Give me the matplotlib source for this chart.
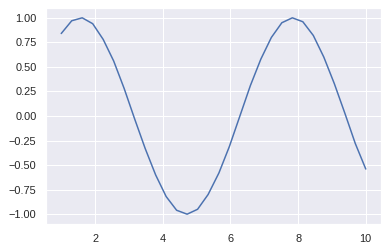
import matplotlib
matplotlib.use("Agg")
import matplotlib.pyplot as plt
import seaborn as sns

# values
x = [1.00, 1.31, 1.62, 1.93, 2.24, 2.55, 2.86, 3.17, 3.48, 3.79,
     4.10, 4.41, 4.72, 5.03, 5.34, 5.66, 5.97, 6.28, 6.59, 6.90,
     7.21, 7.52, 7.83, 8.14, 8.45, 8.76, 9.07, 9.38, 9.69, 10.00]
y = [0.84, 0.97, 1.00, 0.94, 0.78, 0.56, 0.28, -0.03, -0.33, -0.60,
     -0.82, -0.96, -1.00, -0.95, -0.80, -0.58, -0.31, 0.00, 0.31, 0.58,
     0.80, 0.95, 1.00, 0.96, 0.82, 0.60, 0.33, 0.03, -0.28, -0.54]

sns.set_theme()
plt.rcParams['font.family'] = ['Liberation Sans', 'DejaVu Sans']

fig = plt.figure(figsize=(386 / 72, 251 / 72), dpi=72)
ax = fig.add_axes([46 / 386, 27 / 251, 335 / 386, 216 / 251])
ax.plot(x, y)

fig.savefig("out.png", dpi=72)
